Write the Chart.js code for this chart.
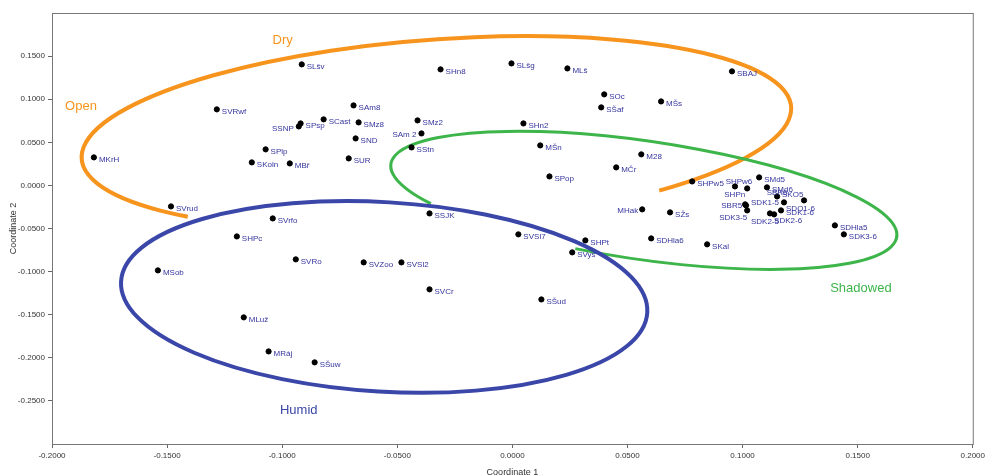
<!DOCTYPE html>
<html lang="en">
<head>
  <meta charset="UTF-8">
  <title>Ordination - Coordinate 1 vs Coordinate 2</title>
  <script src="https://cdn.jsdelivr.net/npm/chart.js"></script>
  <style>
    body { margin: 0; background: #fff; }
    #wrap { width: 988px; height: 475px; position: relative; }
  </style>
</head>
<body>
  <div id="wrap"><canvas id="ord"></canvas></div>
  <script>
    // site names and their two ordination coordinates
    const sites = ['SLšv', 'SVRwf', 'MKrH', 'SVrud', 'SSNP', 'SPsp', 'SCast', 'SAm8', 'SMz8', 'SND',
      'SUR', 'SPlp', 'SKoln', 'MBř', 'SHn8', 'SLšg', 'MLš', 'SMz2', 'SAm 2', 'SStn',
      'SHn2', 'SOc', 'SŠaf', 'MŠs', 'SBAJ', 'MŠn', 'M28', 'MČr', 'SPop', 'MHak',
      'SSJK', 'SVSl7', 'SHPt', 'SVys', 'SŠud', 'SVCr', 'SVZoo', 'SVSl2', 'SVRo', 'SVrfo',
      'SHPc', 'MSob', 'MLuž', 'MRáj', 'SŠuw', 'SDHla6', 'SKal', 'SŽs', 'SDHla5', 'SDK3-6',
      'SHPw5', 'SHPw6', 'SHPn', 'SMd5', 'SMd6', 'SBR6', 'SKO5', 'SDO1-6', 'SDK1-5', 'SBR5',
      'SDK3-5', 'SDK1-6', 'SDK2-5', 'SDK2-6'];
    const coord1 = [-0.0915, -0.1284, -0.1818, -0.1483, -0.0928, -0.0920, -0.0820, -0.0690, -0.0668, -0.0681,
      -0.0711, -0.1072, -0.1132, -0.0967, -0.0312, -0.0004, 0.0239, -0.0412, -0.0395, -0.0438,
      0.0048, 0.0399, 0.0386, 0.0646, 0.0954, 0.0121, 0.0560, 0.0451, 0.0161, 0.0564,
      -0.0360, 0.0026, 0.0317, 0.0260, 0.0126, -0.0360, -0.0646, -0.0482, -0.0941, -0.1041,
      -0.1197, -0.1540, -0.1167, -0.1059, -0.0859, 0.0603, 0.0846, 0.0685, 0.1401, 0.1440,
      0.0781, 0.0967, 0.1020, 0.1072, 0.1106, 0.1150, 0.1180, 0.1267, 0.1015, 0.1011,
      0.1020, 0.1167, 0.1119, 0.1137];
    const coord2 = [0.1404, 0.0882, 0.0325, -0.0244, 0.0684, 0.0719, 0.0766, 0.0928, 0.0731, 0.0545,
      0.0313, 0.0418, 0.0267, 0.0255, 0.1346, 0.1415, 0.1357, 0.0754, 0.0603, 0.0441,
      0.0719, 0.1056, 0.0905, 0.0974, 0.1323, 0.0464, 0.0360, 0.0209, 0.0104, -0.0278,
      -0.0325, -0.0568, -0.0638, -0.0777, -0.1323, -0.1206, -0.0893, -0.0893, -0.0858, -0.0383,
      -0.0592, -0.0986, -0.1531, -0.1926, -0.2053, -0.0615, -0.0684, -0.0313, -0.0464, -0.0568,
      0.0046, -0.0012, -0.0035, 0.0093, -0.0023, -0.0128, -0.0197, -0.0174, -0.0232, -0.0220,
      -0.0290, -0.0290, -0.0325, -0.0336];

    const xTicks = [-0.2, -0.15, -0.1, -0.05, 0, 0.05, 0.1, 0.15, 0.2];
    const yTicks = [-0.25, -0.2, -0.15, -0.1, -0.05, 0, 0.05, 0.1, 0.15];

    // habitat groups drawn as ellipse arcs (centre in data units, radii in axis units, rotation/arc in degrees)
    const groupNames = ['Dry', 'Open', 'Shadowed', 'Humid'];
    const groupLabelX = [-0.0998, -0.1874, 0.1514, -0.0928];
    const groupLabelY = [0.1682, 0.0916, -0.1195, -0.2610];
    const groupColor = ['#f7941d', '#f7941d', '#3db54a', '#3a46a8'];

    const ellipses = [
      { cx: -0.033, cy: 0.0609, rx: 0.1545, ry: 0.1084, rot: -4.2, from: 52.2, to: 135.6, ccw: true, color: '#f7941d', w: 4 },
      { cx: 0.0571, cy: -0.0174, rx: 0.111, ry: 0.0687, rot: 8.2, from: 145.4, to: 103.8, ccw: false, color: '#3db54a', w: 3 },
      { cx: -0.0557, cy: -0.1294, rx: 0.1145, ry: 0.1099, rot: 3.4, from: 0, to: 360, ccw: false, color: '#3a46a8', w: 4 }
    ];

    // labels that sit somewhere other than right of the dot: [dx, dy, align]
    const labelPlace = {
      'SSNP': [-5, 2, 'right'], 'SAm 2': [-5, 1, 'right'], 'MHak': [-4, 1, 'right'],
      'SHPw6': [4, -5, 'center'], 'SHPn': [-2, 6, 'right'], 'SBR6': [0, -4, 'center'],
      'SKO5': [-2, -8, 'left'], 'SDO1-6': [-18, 8, 'left'], 'SDK1-5': [5, -3, 'left'],
      'SBR5': [-3, 1, 'right'], 'SDK3-5': [0, 7, 'right'], 'SDK2-5': [-19, 8, 'left'],
      'SDK2-6': [0, 6, 'left']
    };

    const rad = d => d * Math.PI / 180;

    const groupsPlugin = {
      id: 'groups',
      beforeDatasetsDraw(chart) {
        const ctx = chart.ctx, xs = chart.scales.x, ys = chart.scales.y;
        const kx = Math.abs(xs.getPixelForValue(1) - xs.getPixelForValue(0));
        const ky = Math.abs(ys.getPixelForValue(1) - ys.getPixelForValue(0));
        ctx.save();
        ellipses.forEach(e => {
          ctx.beginPath();
          ctx.ellipse(xs.getPixelForValue(e.cx), ys.getPixelForValue(e.cy), e.rx * kx, e.ry * ky,
            rad(e.rot), rad(e.from), rad(e.to), e.ccw);
          ctx.strokeStyle = e.color;
          ctx.lineWidth = e.w;
          ctx.stroke();
        });
        ctx.font = '13px "Liberation Sans", Arial, sans-serif';
        ctx.textAlign = 'center';
        ctx.textBaseline = 'middle';
        groupNames.forEach((n, i) => {
          ctx.fillStyle = groupColor[i];
          ctx.fillText(n, xs.getPixelForValue(groupLabelX[i]), ys.getPixelForValue(groupLabelY[i]));
        });
        ctx.restore();
      },
      afterDatasetsDraw(chart) {
        const ctx = chart.ctx, a = chart.chartArea;
        const meta = chart.getDatasetMeta(0);
        ctx.save();
        ctx.font = '8px "Liberation Sans", Arial, sans-serif';
        ctx.fillStyle = '#35359e';
        ctx.textBaseline = 'middle';
        meta.data.forEach((pt, i) => {
          const p = labelPlace[sites[i]] || [5, 2, 'left'];
          ctx.textAlign = p[2];
          ctx.fillText(sites[i], pt.x + p[0], pt.y + p[1]);
        });
        // frame round the plot
        ctx.strokeStyle = '#777';
        ctx.lineWidth = 1;
        ctx.strokeRect(a.left + 0.5, a.top + 0.5, a.right - a.left, a.bottom - a.top);
        ctx.restore();
      }
    };

    const tickFont = { family: '"Liberation Sans", Arial, sans-serif', size: 8 };

    new Chart(document.getElementById('ord'), {
      type: 'scatter',
      data: {
        datasets: [{
          label: 'Sites',
          data: sites.map((s, i) => ({ x: coord1[i], y: coord2[i] })),
          backgroundColor: '#000',
          borderColor: '#000',
          pointRadius: 2.6,
          pointHoverRadius: 2.6
        }]
      },
      options: {
        responsive: true,
        maintainAspectRatio: false,
        animation: false,
        layout: { padding: { top: 13, right: 14, left: 8, bottom: 0 } },
        plugins: { legend: { display: false }, tooltip: { enabled: false } },
        scales: {
          x: {
            type: 'linear', min: -0.2, max: 0.2,
            afterBuildTicks: s => { s.ticks = xTicks.map(v => ({ value: v })); },
            afterFit: s => { s.height = 31; },
            grid: { drawOnChartArea: false, drawTicks: true, tickLength: 4, color: '#666' },
            border: { display: true, color: '#777' },
            ticks: { autoSkip: false, maxRotation: 0, padding: 3, color: '#333', font: tickFont,
              callback: v => v.toFixed(4) },
            title: { display: true, text: 'Coordinate 1', color: '#333', font: { family: tickFont.family, size: 9 }, padding: { top: 0, bottom: -3 } }
          },
          y: {
            type: 'linear', min: -0.3, max: 0.2,
            afterBuildTicks: s => { s.ticks = yTicks.map(v => ({ value: v })); },
            afterFit: s => { s.width = 44; },
            grid: { drawOnChartArea: false, drawTicks: true, tickLength: 4, color: '#666' },
            border: { display: true, color: '#777' },
            ticks: { autoSkip: false, padding: 3, color: '#333', font: tickFont,
              callback: v => v.toFixed(4) },
            title: { display: true, text: 'Coordinate 2', color: '#333', font: { family: tickFont.family, size: 9 }, padding: { top: 0, bottom: 0 } }
          }
        }
      },
      plugins: [groupsPlugin]
    });
  </script>
</body>
</html>
